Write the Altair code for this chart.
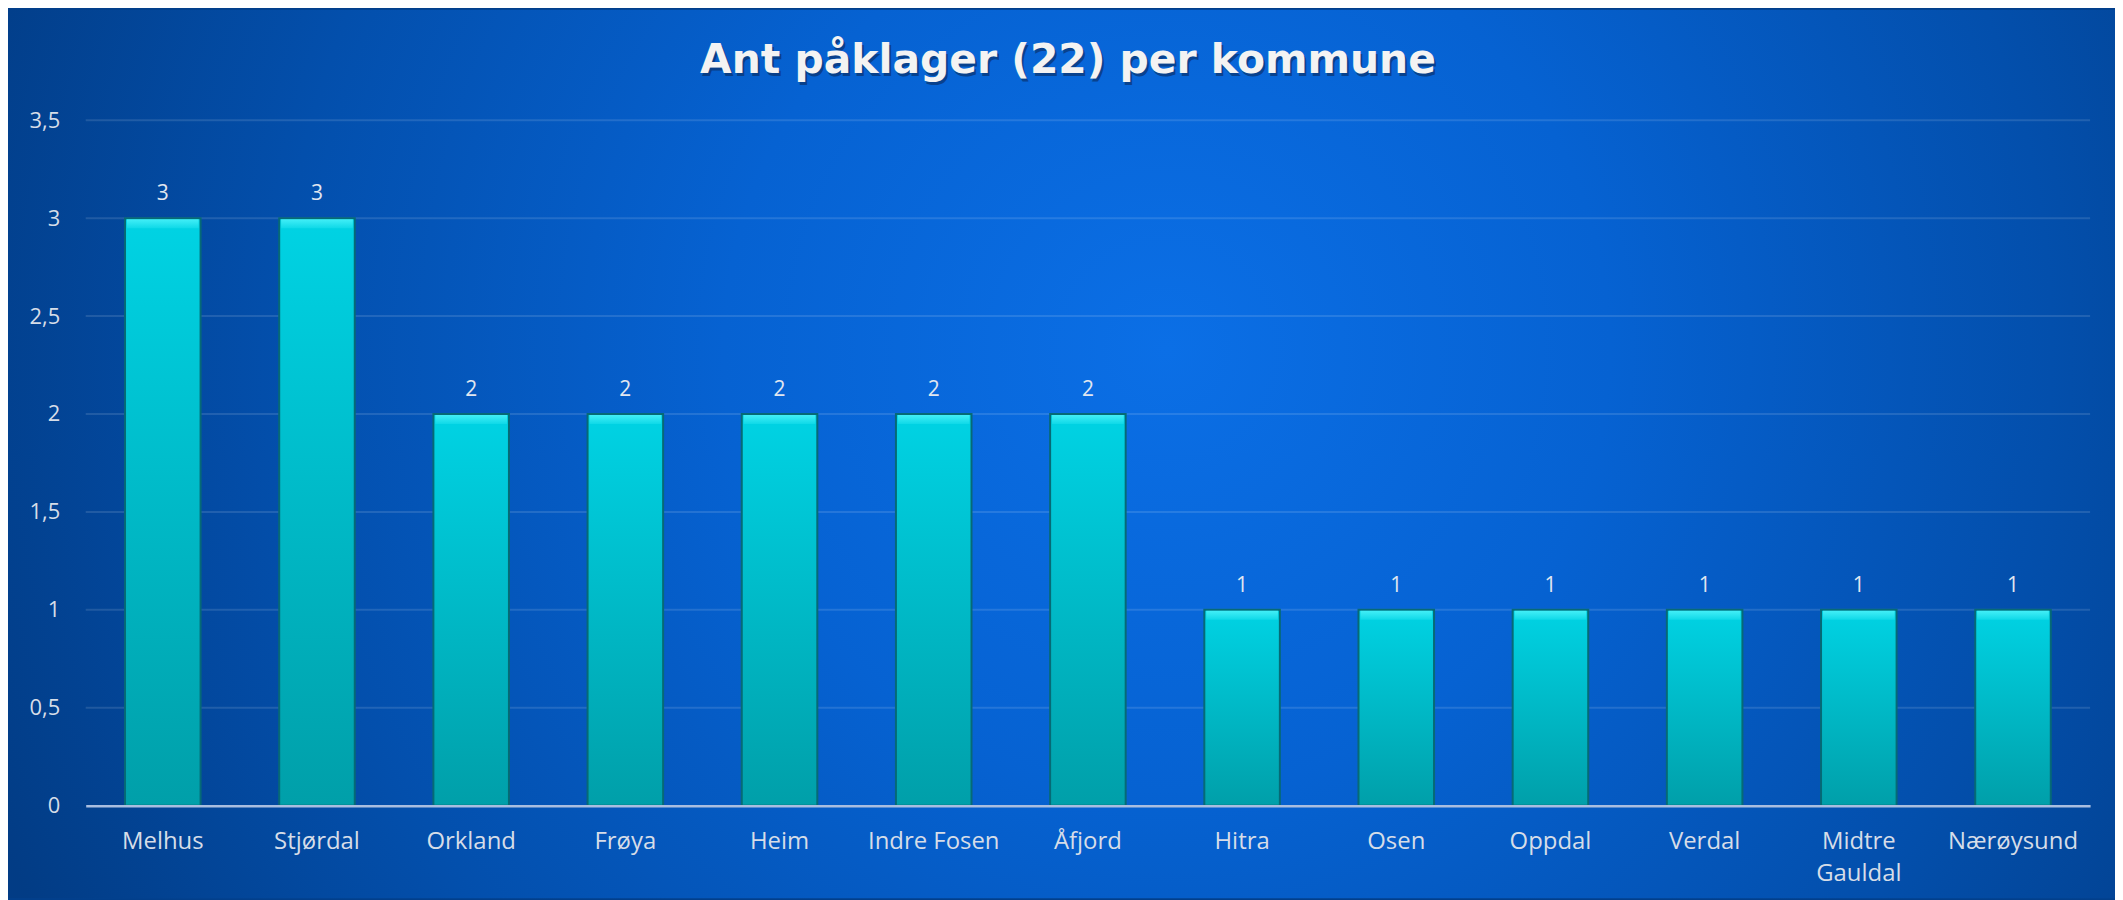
import altair as alt
import pandas as pd

# ---- data ----
kommuner = ["Melhus", "Stjørdal", "Orkland", "Frøya", "Heim", "Indre Fosen", "Åfjord",
            "Hitra", "Osen", "Oppdal", "Verdal", "Midtre Gauldal", "Nærøysund"]
antall = [3, 3, 2, 2, 2, 2, 2, 1, 1, 1, 1, 1, 1]
y_ticks = [0, 0.5, 1, 1.5, 2, 2.5, 3, 3.5]
tittel = ["Ant påklager (22) per kommune"]

df = pd.DataFrame({"kommune": kommuner, "antall": antall})
grid_df = pd.DataFrame({"v": y_ticks[1:]})
bg_df = pd.DataFrame({"bg": [0]})
title_df = pd.DataFrame({"t": tittel})

W, H = 2012, 688
PAD_L, PAD_T, PAD_R, PAD_B = 78, 111, 25, 93

label_color = "#d6dde8"

x_enc = alt.X(
    "kommune:N", sort=kommuner,
    scale=alt.Scale(paddingInner=0.51, paddingOuter=0.255),
    axis=alt.Axis(
        title=None, labelAngle=0, labelFont="Open Sans", labelFontSize=24,
        labelColor=label_color, labelPadding=24, ticks=False, grid=False,
        domainColor="#a9bee0", domainWidth=2.5,
        labelExpr="datum.label == 'Midtre Gauldal' ? ['Midtre', 'Gauldal'] : datum.label",
        labelLineHeight=32, zindex=1,
    ),
)
y_enc = alt.Y(
    "antall:Q",
    scale=alt.Scale(domain=[0, 3.5], nice=False),
    axis=alt.Axis(
        title=None, values=y_ticks,
        labelExpr="replace(format(datum.value, '~g'), '.', ',')",
        labelFont="Open Sans", labelFontSize=22, labelColor=label_color,
        labelPadding=26, ticks=False, domain=False, grid=False, zindex=1,
    ),
)

bg = alt.Chart(bg_df).mark_rect(
    fill={
        "gradient": "radial",
        "x1": 0.55, "y1": 0.45, "r1": 0,
        "x2": 0.55, "y2": 0.45, "r2": 0.6,
        "stops": [
            {"offset": 0, "color": "#0b6fe6"},
            {"offset": 0.35, "color": "#0662d2"},
            {"offset": 0.7, "color": "#034fac"},
            {"offset": 1, "color": "#023c85"},
        ],
    }
).encode(
    x=alt.value(-PAD_L), x2=alt.value(W + PAD_R),
    y=alt.value(-PAD_T), y2=alt.value(H + PAD_B),
)

grid = alt.Chart(grid_df).mark_rule(color="#ffffff", opacity=0.12, strokeWidth=2).encode(
    y=alt.Y("v:Q", scale=alt.Scale(domain=[0, 3.5], nice=False))
)

base = alt.Chart(df).encode(x=x_enc, y=y_enc)

bars = base.mark_bar(
    fill={
        "gradient": "linear", "x1": 0, "y1": 0, "x2": 0, "y2": 1,
        "stops": [
            {"offset": 0, "color": "#00d3e4"},
            {"offset": 1, "color": "#009fa9"},
        ],
    },
    stroke="#066a76", strokeWidth=2,
)

bevel = base.mark_tick(
    color={
        "gradient": "linear", "x1": 0, "y1": 0, "x2": 0, "y2": 1,
        "stops": [
            {"offset": 0, "color": "#5ffaff"},
            {"offset": 1, "color": "#16dcea"},
        ],
    },
    thickness=9, size=72, yOffset=5.5, orient="horizontal",
)

labels = base.mark_text(
    baseline="alphabetic", dy=-18, font="Open Sans", fontSize=21, color="#e1e7f0"
).encode(text=alt.Text("antall:Q"))

TX, TY = 986, -47

title_shadow = alt.Chart(title_df).mark_text(
    font="DejaVu Sans", fontSize=41, fontWeight="bold", color="#0a2552", opacity=0.55,
    align="center", baseline="alphabetic",
).encode(text="t:N", x=alt.value(TX + 2), y=alt.value(TY + 3))

title_text = alt.Chart(title_df).mark_text(
    font="DejaVu Sans", fontSize=41, fontWeight="bold", color="#f3f3f3",
    align="center", baseline="alphabetic",
).encode(text="t:N", x=alt.value(TX), y=alt.value(TY))

chart = alt.layer(bg, grid, bars, bevel, labels, title_shadow, title_text).properties(
    width=W, height=H,
    autosize=alt.AutoSizeParams(type="none"),
    padding={"left": PAD_L, "top": PAD_T, "right": PAD_R, "bottom": PAD_B},
).configure(background="#023f8b").configure_view(strokeWidth=0)

chart.save("out.html", embed_options={"renderer": "svg", "actions": False})
